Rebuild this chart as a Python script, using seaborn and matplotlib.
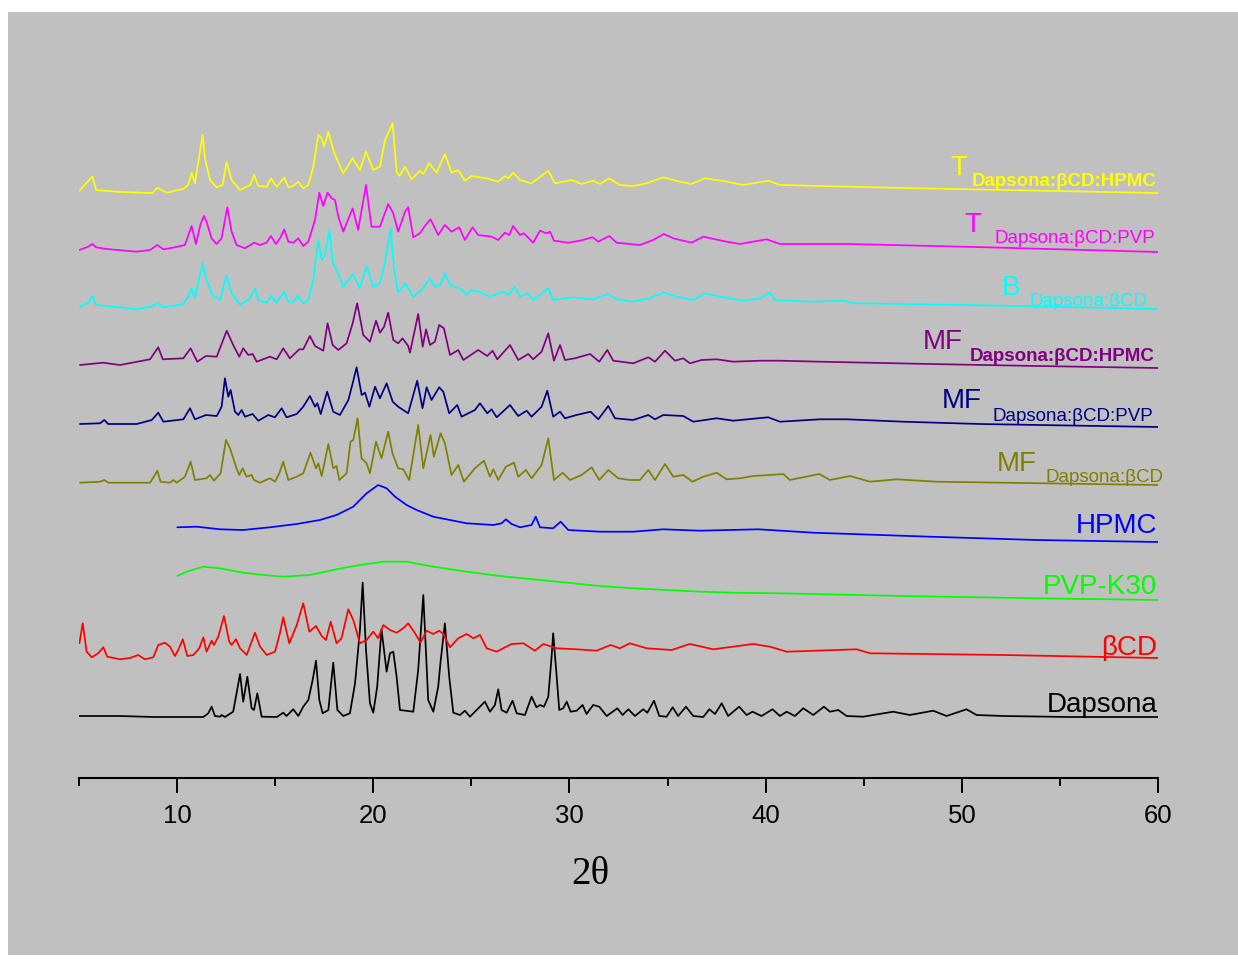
import pandas as pd
import matplotlib.pyplot as plt
import seaborn as sns
from matplotlib.patches import Rectangle

sns.set_style("ticks")
plt.rcParams["font.family"] = ["Liberation Sans", "DejaVu Sans"]
plt.rcParams["text.color"] = "black"
plt.rcParams["xtick.color"] = "black"
plt.rcParams["axes.edgecolor"] = "black"

# (2theta, relative intensity)
dapsona = [(5.02, 1), (7.09, 1), (8.79, 0), (11.34, 0), (11.59, 3.7), (11.76, 10.3), (11.93, 1), (12.19, 0.3),
           (12.27, 2), (12.44, 0), (12.86, 5.3), (13.03, 23.7), (13.21, 43), (13.37, 15.3), (13.58, 40.3),
           (13.80, 8.7), (13.92, 7), (14.09, 23.7), (14.31, 0.3), (15.08, 0), (15.41, 4.3), (15.58, 1),
           (15.92, 7.7), (16.18, 1), (16.43, 10.3), (16.69, 17), (16.91, 37), (17.08, 56.3), (17.25, 17),
           (17.42, 3.7), (17.71, 7), (17.96, 54.3), (18.17, 7), (18.47, 1), (18.81, 3.7), (19.07, 33.7),
           (19.32, 87), (19.46, 134.3), (19.63, 67), (19.83, 13.7), (20.00, 4.3), (20.20, 30.3), (20.42, 87.7),
           (20.68, 45.3), (20.85, 63.7), (21.02, 65.3), (21.19, 40.3), (21.36, 7), (22.04, 5.3), (22.29, 47),
           (22.55, 122), (22.80, 17), (23.06, 5.3), (23.31, 30.3), (23.43, 55.3), (23.65, 93.7), (23.87, 40.3),
           (24.08, 4.3), (24.42, 2), (24.67, 6.3), (24.93, 0.3), (25.44, 10.3), (25.69, 15.3), (25.95, 5.3),
           (26.20, 12), (26.37, 27.7), (26.54, 7), (26.80, 4.3), (27.10, 16.3), (27.31, 3.7), (27.73, 2),
           (28.07, 20.3), (28.32, 9.7), (28.50, 12), (28.70, 10.3), (28.92, 20.3), (29.09, 60.3), (29.17, 83.7),
           (29.35, 40.3), (29.48, 7), (29.68, 8.7), (29.86, 15.3), (30.06, 5.3), (30.37, 6.3), (30.67, 12),
           (30.87, 3), (31.21, 12), (31.52, 10.3), (31.90, 1), (32.44, 8.7), (32.71, 2), (33.00, 7.7),
           (33.34, 1), (33.76, 7.7), (33.97, 4.3), (34.31, 16.3), (34.58, 1), (34.95, 0.3), (35.26, 9.7),
           (35.54, 1), (35.94, 10.3), (36.31, 1), (36.82, 0), (37.13, 7.7), (37.42, 3), (37.76, 13.7),
           (38.09, 1), (38.65, 10.3), (39.03, 2), (39.33, 5.3), (39.79, 1), (40.35, 7.7), (40.73, 1),
           (41.07, 5.3), (41.49, 1), (41.92, 8.7), (42.43, 2), (42.97, 10.3), (43.28, 5.3), (43.70, 7),
           (44.13, 1), (44.97, 0.3), (46.50, 5.3), (47.35, 2), (48.54, 6.3), (49.22, 1), (50.24, 7.7),
           (50.75, 2), (52.11, 1), (55.51, 0), (60.00, 0)]

beta_cd = [(5.02, 14.7), (5.19, 34.7), (5.39, 6.3), (5.65, 0.7), (5.98, 4.7), (6.24, 10.7), (6.44, 1.3),
           (7.09, -1.3), (7.60, 0), (8.02, 3), (8.36, -1.3), (8.79, 0.7), (9.04, 13), (9.38, 15.3),
           (9.64, 11.3), (9.89, 2), (10.06, 8), (10.29, 18.7), (10.52, 2), (10.83, 3), (11.13, 9.7),
           (11.34, 20.7), (11.50, 6.3), (11.76, 17.3), (11.88, 13), (12.10, 21.3), (12.39, 42), (12.66, 16.3),
           (12.78, 13), (13.00, 18.7), (13.21, 9.7), (13.55, 3), (13.97, 25.3), (14.23, 11.3), (14.57, 3),
           (14.99, 6.3), (15.24, 24.7), (15.41, 40.7), (15.72, 14.7), (16.10, 33), (16.43, 54.7), (16.74, 26.3),
           (17.08, 32), (17.37, 22), (17.59, 18), (17.83, 36.3), (18.13, 14.7), (18.38, 19.7), (18.73, 48.7),
           (18.98, 38), (19.32, 14.7), (19.66, 18), (20.00, 26.3), (20.25, 19.7), (20.51, 33), (20.85, 28),
           (21.19, 25.3), (21.53, 29.7), (21.78, 34.7), (22.13, 24.7), (22.41, 15.3), (22.72, 27.3),
           (23.06, 24), (23.36, 27.3), (23.57, 24), (23.91, 10.7), (24.33, 19.7), (24.76, 24), (25.10, 19.7),
           (25.44, 23), (25.78, 9.7), (26.29, 6.3), (27.05, 14), (27.65, 14.7), (28.24, 7.3), (28.67, 14),
           (29.35, 9.7), (30.37, 8.7), (31.38, 7.3), (32.10, 13), (32.57, 9.7), (33.08, 14.7), (33.94, 9.7),
           (35.21, 8), (36.14, 14), (37.33, 8.7), (39.37, 14), (40.22, 11.3), (41.07, 6.3), (44.64, 8.7),
           (45.32, 4.7), (52.11, 3), (60.00, 0)]

pvp_k30 = [(10.01, 24), (10.49, 28.3), (11.34, 33.3), (12.19, 31.7), (13.37, 27.3), (14.39, 25), (15.41, 23.3),
           (16.77, 25), (18.13, 30.7), (19.32, 35), (20.51, 38.3), (21.70, 38.3), (23.06, 33.3), (24.76, 28.3),
           (26.46, 24), (28.15, 20.7), (29.86, 17.3), (31.55, 14), (33.25, 11.7), (34.95, 10), (36.65, 8.3),
           (38.35, 7.3), (40.73, 6.7), (47.01, 4), (53.81, 1.7), (60.00, 0)]

hpmc = [(10.01, 14.7), (11.00, 15.3), (12.19, 12.7), (13.37, 12), (14.73, 14.7), (16.10, 18), (17.28, 22),
        (18.13, 27), (18.98, 35.3), (19.66, 48.7), (20.25, 57), (20.68, 53.7), (21.11, 45.3), (21.70, 37),
        (22.21, 32), (23.06, 25.3), (24.76, 18.7), (26.12, 17), (26.54, 18.7), (26.76, 22.7), (27.05, 18),
        (27.48, 14.7), (28.07, 17), (28.28, 25.3), (28.50, 14.7), (29.17, 13.7), (29.55, 20.3), (29.94, 12),
        (31.55, 10.3), (33.25, 10.3), (34.78, 12.7), (36.65, 11.3), (39.62, 12.7), (42.43, 9.3), (48.37, 5.3),
        (53.81, 2), (60.00, 0)]

mf_bcd = [(5.05, 2.3), (6.07, 3.3), (6.29, 5), (6.49, 2.3), (8.62, 2.3), (8.82, 8.3), (8.99, 14.3), (9.16, 3.3),
          (9.64, 2.3), (9.81, 5), (9.98, 2.3), (10.40, 8.3), (10.69, 23.3), (10.91, 5), (11.50, 6.7), (11.68, 10),
          (11.88, 4.3), (12.22, 11.7), (12.49, 45), (12.70, 36.7), (13.03, 16.7), (13.17, 10), (13.34, 16.7),
          (13.54, 8.3), (13.80, 10), (13.92, 5), (14.23, 2.3), (14.73, 6.7), (14.99, 3.3), (15.21, 11.7),
          (15.41, 23.3), (15.67, 5), (16.10, 8.3), (16.43, 11.7), (16.80, 32.3), (17.08, 16.7), (17.20, 21.7),
          (17.37, 9), (17.71, 41), (17.96, 16.7), (18.13, 19), (18.27, 5), (18.64, 11.7), (18.84, 43.3),
          (18.98, 45), (19.20, 66.7), (19.40, 26.7), (19.66, 21.7), (19.83, 11.7), (20.14, 43.3), (20.42, 26.7),
          (20.76, 53.3), (20.98, 31.7), (21.27, 16.7), (21.53, 15.7), (21.83, 5), (22.29, 60), (22.55, 16.7),
          (22.92, 50), (23.09, 28.3), (23.43, 51.7), (23.65, 41.7), (23.99, 10), (24.33, 20), (24.62, 3.3),
          (25.18, 16.7), (25.64, 24.3), (25.95, 8.3), (26.12, 15.7), (26.37, 5), (26.76, 18.3), (27.17, 22.3),
          (27.39, 8.3), (27.78, 15), (28.07, 6.7), (28.58, 20), (28.92, 46.7), (29.21, 5), (29.65, 12.3),
          (30.03, 5), (30.62, 10), (31.13, 17.7), (31.52, 5), (31.98, 15), (32.49, 6.7), (33.08, 5), (33.59, 5),
          (34.02, 15), (34.36, 5), (34.87, 21), (35.29, 8.3), (35.80, 10), (36.27, 3.3), (36.82, 8.3),
          (37.50, 12.3), (38.01, 5.7), (38.69, 6.7), (39.37, 9), (40.22, 10), (40.90, 11), (41.24, 5),
          (42.73, 11), (43.28, 5), (44.30, 9), (45.32, 3.3), (46.67, 5.7), (48.71, 3.3), (52.11, 2.3), (60.00, 0)]

mf_pvp = [(5.05, 3), (6.07, 3.7), (6.29, 7), (6.49, 3), (7.94, 3), (8.71, 7), (9.04, 14.3), (9.30, 5.3),
          (10.32, 7.7), (10.66, 18.7), (10.91, 7.7), (11.47, 12), (12.02, 11), (12.27, 20.3), (12.44, 48.7),
          (12.61, 30.3), (12.73, 37), (12.95, 15.3), (13.12, 12), (13.29, 17), (13.46, 10.3), (13.85, 13),
          (14.14, 6.3), (14.65, 12), (14.99, 9.7), (15.33, 18.7), (15.58, 9.7), (16.10, 13), (16.43, 20.3),
          (16.77, 31), (17.03, 20.3), (17.15, 23.7), (17.32, 13), (17.65, 35.3), (17.96, 15.3), (18.30, 12),
          (18.73, 27), (18.95, 43.7), (19.15, 59.7), (19.41, 32), (19.58, 34.3), (19.80, 20.3), (20.09, 40.3),
          (20.34, 28.7), (20.68, 43.7), (20.99, 25.3), (21.27, 20.3), (21.78, 13.7), (22.24, 46.3),
          (22.51, 18.7), (22.72, 39.7), (22.97, 27), (23.36, 39.7), (23.57, 35.3), (23.87, 13.7), (24.28, 22),
          (24.50, 10.3), (25.18, 17), (25.44, 23.7), (25.81, 13.7), (26.03, 17.7), (26.29, 9.7), (26.97, 22),
          (27.39, 11), (27.82, 16.3), (28.07, 10.3), (28.58, 20.3), (28.87, 36.3), (29.17, 10.3), (29.52, 15.3),
          (29.77, 8.7), (30.36, 12), (31.08, 15.3), (31.47, 7.7), (31.98, 21), (32.32, 8.7), (33.25, 7),
          (34.02, 12), (34.36, 7.7), (34.78, 12), (35.80, 11), (36.31, 5.3), (37.50, 8.7), (38.35, 6.3),
          (40.13, 9.7), (40.73, 5.3), (42.77, 7.7), (44.13, 7.7), (47.01, 5.3), (50.92, 3), (60.00, 0)]

mf_hpmc = [(5.05, 3), (6.24, 5.3), (7.09, 3), (8.62, 8.7), (9.04, 20.7), (9.27, 8.7), (10.32, 9.7), (10.69, 19.7),
           (11.03, 6.3), (11.47, 12), (12.02, 11.3), (12.53, 37.3), (12.86, 23), (13.17, 11.3), (13.37, 19.7),
           (13.63, 13), (13.85, 14), (14.06, 6.3), (14.73, 11.3), (15.08, 8.7), (15.41, 19.7), (15.75, 9.7),
           (16.23, 18.7), (16.43, 18.7), (16.77, 32), (17.03, 22), (17.45, 17.3), (17.67, 44.7), (17.93, 23),
           (18.22, 18), (18.64, 24.7), (18.95, 44.7), (19.18, 64.7), (19.49, 33), (19.83, 26.3), (20.14, 47.3),
           (20.34, 35.3), (20.55, 41.3), (20.76, 55.3), (21.02, 28), (21.27, 24.7), (21.49, 29.7), (21.78, 22),
           (21.87, 15.3), (22.29, 54), (22.52, 21.3), (22.69, 38.7), (22.89, 23), (23.14, 26.3), (23.36, 43),
           (23.60, 39.7), (23.91, 13), (24.33, 18), (24.59, 8), (25.35, 18), (25.81, 12), (26.08, 17.3),
           (26.32, 8.7), (26.97, 23), (27.39, 8), (27.90, 14), (28.15, 8.7), (28.58, 16.3), (28.92, 34.7),
           (29.21, 7.3), (29.52, 23), (29.77, 8), (30.28, 9.7), (31.05, 14), (31.52, 6.3), (31.93, 18),
           (32.23, 7.3), (33.25, 4.7), (34.02, 10.7), (34.36, 6.3), (34.87, 17.3), (35.38, 7.3), (35.80, 9.7),
           (36.14, 4.7), (36.74, 8), (37.50, 8.7), (38.35, 6.3), (39.71, 7.3), (40.73, 7.3), (42.77, 6.3),
           (48.37, 4), (53.81, 2), (60.00, 0)]

b_bcd = [(5.05, 2.3), (5.47, 6.3), (5.68, 13), (5.87, 4), (7.09, 1.7), (7.94, 0), (8.62, 2.3), (8.99, 5.7),
         (9.30, 1.7), (10.31, 5), (10.57, 12.3), (10.74, 20.7), (10.91, 10.7), (11.30, 45.7), (11.50, 29),
         (11.84, 12.3), (12.19, 9), (12.52, 34), (12.78, 15.7), (13.21, 4), (13.72, 10.7), (13.97, 20.7),
         (14.14, 9), (14.56, 6.3), (14.79, 13), (15.07, 6.3), (15.46, 17.3), (15.67, 7.3), (15.92, 7.3),
         (16.14, 13), (16.43, 5.7), (16.69, 9), (16.94, 29), (17.20, 69), (17.38, 49), (17.54, 54), (17.76, 79),
         (17.94, 47), (18.13, 39), (18.47, 22.3), (18.95, 35), (19.32, 20.7), (19.66, 43), (20.00, 22.3),
         (20.34, 25.7), (20.60, 47), (20.89, 80.7), (21.06, 39), (21.27, 16.3), (21.62, 25.7), (22.04, 12.3),
         (22.46, 19), (22.89, 30.7), (23.14, 22.3), (23.40, 24), (23.65, 35.7), (23.91, 24), (24.42, 20.7),
         (24.76, 14), (25.01, 19), (25.52, 16.3), (25.95, 12.3), (26.63, 17.3), (26.88, 14), (27.22, 22.3),
         (27.48, 12.3), (27.90, 15.7), (28.15, 9), (28.50, 14), (28.92, 20.7), (29.17, 9), (30.19, 11.7),
         (31.21, 9.7), (31.98, 15), (32.40, 9.7), (33.25, 7.3), (34.10, 10.7), (34.82, 16.3), (35.46, 12.3),
         (36.31, 9), (36.90, 15.7), (37.67, 12.3), (38.86, 8.3), (39.71, 10.7), (40.22, 16.3), (40.48, 9),
         (42.43, 7.3), (43.96, 8.3), (44.46, 5.7), (50.41, 4), (60.00, 0)]

t_pvp = [(5.02, 2), (5.47, 5.3), (5.68, 8), (5.87, 4.7), (6.41, 3), (7.94, 0.3), (8.62, 2), (8.99, 7), (9.30, 2.7),
         (9.89, 4.7), (10.40, 7), (10.74, 26), (10.96, 8), (11.20, 28), (11.37, 36), (11.50, 30.3), (11.76, 13.7),
         (12.01, 8), (12.27, 13.7), (12.56, 44.7), (12.78, 20.3), (13.03, 7), (13.46, 3.7), (13.93, 9.3),
         (14.22, 7), (14.56, 9.3), (14.78, 16), (15.04, 8), (15.28, 14.7), (15.46, 22.7), (15.67, 10.3),
         (15.92, 9.3), (16.18, 13.7), (16.43, 6), (16.69, 10.3), (17.03, 32), (17.25, 59.3), (17.45, 46),
         (17.67, 59.3), (17.88, 53.7), (18.05, 52), (18.22, 35.3), (18.47, 20.3), (18.95, 43.7), (19.23, 22),
         (19.63, 67), (19.91, 25.3), (20.34, 25.3), (20.76, 48), (21.02, 38.7), (21.27, 20.3), (21.62, 40.3),
         (21.78, 44.7), (22.04, 14.7), (22.38, 18.7), (22.63, 26), (22.92, 32.7), (23.31, 17), (23.65, 27),
         (23.99, 20.3), (24.38, 24.7), (24.67, 12), (25.06, 24.7), (25.35, 17), (26.03, 15.3), (26.37, 12),
         (26.71, 19.3), (26.93, 17), (27.13, 26), (27.48, 17), (27.68, 18.7), (28.15, 9.3), (28.50, 21.3),
         (28.83, 18.7), (29.01, 20.3), (29.21, 11.3), (29.94, 9.3), (30.53, 11.3), (31.18, 14.7), (31.47, 10.3),
         (32.03, 16), (32.40, 9.3), (33.59, 7), (34.27, 12), (34.81, 18), (35.29, 13.7), (36.22, 9.3),
         (36.82, 15.3), (38.01, 10.3), (38.69, 8), (40.05, 12.7), (40.73, 8), (44.30, 8), (51.26, 4.7),
         (60.00, 0)]

t_hpmc = [(5.02, 2.3), (5.68, 16.3), (5.87, 3), (7.09, 1), (8.77, 0), (8.99, 5.3), (9.47, 0.3), (10.30, 4),
          (10.57, 8), (10.74, 20.3), (10.91, 9.7), (11.30, 58), (11.42, 34.7), (11.68, 13), (12.02, 5.7),
          (12.32, 8), (12.52, 31.3), (12.78, 13), (13.21, 3), (13.72, 8), (13.93, 18), (14.14, 7), (14.57, 6.3),
          (14.79, 14.7), (15.07, 6.3), (15.46, 15.3), (15.67, 5.7), (15.92, 7), (16.18, 11.3), (16.43, 4.7),
          (16.69, 8), (16.94, 26.3), (17.20, 58), (17.37, 54.7), (17.49, 46.3), (17.71, 61.3), (17.96, 43),
          (18.13, 34.7), (18.47, 19.7), (18.95, 34.7), (19.32, 23), (19.63, 41.3), (20.00, 23), (20.34, 26.3),
          (20.60, 53), (20.99, 69.7), (21.19, 21.3), (21.33, 17), (21.62, 26.3), (21.95, 13.7), (22.38, 22.3),
          (22.55, 19), (22.85, 29.7), (23.23, 20.3), (23.65, 39), (23.99, 20.3), (24.33, 23), (24.67, 12.3),
          (25.01, 17), (25.77, 14.7), (26.37, 11.3), (26.71, 17), (26.88, 14.7), (27.13, 20.3), (27.48, 13),
          (28.07, 9.7), (28.92, 22.3), (29.26, 9.7), (30.11, 13), (30.62, 9), (31.21, 12.3), (31.55, 9),
          (32.03, 14.7), (32.57, 8), (33.25, 7), (33.93, 9.7), (34.78, 15.7), (35.63, 11.3), (36.22, 9),
          (36.90, 14.7), (37.75, 12.3), (38.86, 8), (40.13, 12.3), (40.73, 8), (47.00, 5), (60.00, 0)]

samples = ["Dapsona", "βCD", "PVP-K30", "HPMC", "MF Dapsona:βCD", "MF Dapsona:βCD:PVP",
           "MF Dapsona:βCD:HPMC", "B Dapsona:βCD", "T Dapsona:βCD:PVP", "T Dapsona:βCD:HPMC"]
patterns = [dapsona, beta_cd, pvp_k30, hpmc, mf_bcd, mf_pvp, mf_hpmc, b_bcd, t_pvp, t_hpmc]

# vertical stacking of the patterns
offsets = [61, 120, 178, 236, 293, 351, 410, 469, 526, 585]
colors = ["#000000", "#ff0000", "#00ff00", "#0000ff", "#808000", "#000080",
          "#800080", "#00ffff", "#ff00ff", "#ffff00"]

rows = []
for name, pts, off in zip(samples, patterns, offsets):
    for t, i in pts:
        rows.append({"theta": t, "y": i + off, "sample": name})
df = pd.DataFrame(rows)

fig = plt.figure(figsize=(12.38, 9.59), dpi=100)
fig.add_artist(Rectangle((8 / 1238, 4 / 959), 1230 / 1238, 943 / 959, transform=fig.transFigure,
                         facecolor="#c0c0c0", edgecolor="none", zorder=-10))
ax = fig.add_axes([79 / 1238, 181 / 959, 1079 / 1238, 678 / 959])
ax.set_facecolor("none")

sns.lineplot(data=df, x="theta", y="y", hue="sample", hue_order=samples,
             palette=dict(zip(samples, colors)), estimator=None, sort=False,
             legend=False, linewidth=1.25, ax=ax)

ax.set_xlim(5, 60)
ax.set_ylim(0, 678)
for s in ["left", "right", "top"]:
    ax.spines[s].set_visible(False)
ax.spines["bottom"].set_linewidth(1.5)
ax.spines["bottom"].set_color("black")
ax.set_yticks([])
ax.set_xticks([10, 20, 30, 40, 50, 60])
ax.set_xticks([5, 15, 25, 35, 45, 55], minor=True)
ax.tick_params(axis="x", which="major", length=11, width=1.4, labelsize=18.5, pad=8, colors="black")
ax.tick_params(axis="x", which="minor", length=5.5, width=1.4, colors="black")
ax.set_ylabel("")
ax.set_xlabel("2θ", fontsize=28, color="black", family=["Liberation Serif", "DejaVu Serif"])
ax.xaxis.set_label_coords(26.05 / 55, -0.115)

# sample labels: (main text, subscript, subscript bold, main right x, main baseline, sub right x, sub baseline)
labels = [("Dapsona", None, False, 59.95, 66, None, None),
          ("βCD", None, False, 59.95, 123, None, None),
          ("PVP-K30", None, False, 59.95, 184, None, None),
          ("HPMC", None, False, 59.95, 245, None, None),
          ("MF", "Dapsona:βCD", False, 53.83, 307, 60.3, 296),
          ("MF", "Dapsona:βCD:PVP", False, 51.02, 370, 59.74, 357),
          ("MF", "Dapsona:βCD:HPMC", True, 50.06, 429, 59.84, 417),
          ("B", "Dapsona:βCD", False, 52.96, 483, 59.49, 472),
          ("T", "Dapsona:βCD:PVP", False, 51.02, 546, 59.84, 535),
          ("T", "Dapsona:βCD:HPMC", True, 50.26, 603, 59.94, 592)]
for (main, sub, bold, mx, my, sx, sy), c in zip(labels, colors):
    ax.text(mx, my, main, color=c, fontsize=20, ha="right", va="baseline", clip_on=False)
    if sub:
        ax.text(sx, sy, sub, color=c, fontsize=13.5, fontweight="bold" if bold else "normal",
                ha="right", va="baseline", clip_on=False)

fig.savefig("out.png", dpi=100)
